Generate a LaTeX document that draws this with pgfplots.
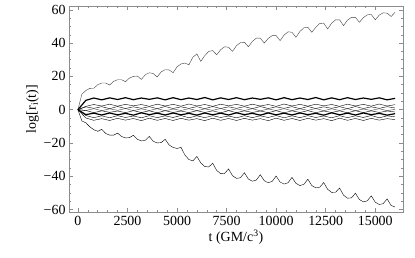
\documentclass[border=0pt]{standalone}
\usepackage{pgfplots}
\usepackage{pgfplotstable}
\pgfplotsset{compat=1.18}
\usepackage{fontspec}
\setmainfont{Liberation Serif}
\pgfplotstableread{
t U L
0 0 0
200 9.3 -6.8
400 11.5 -7.9
600 12.8 -10.3
800 12.9 -12.0
1000 15.0 -13.0
1200 16.0 -11.8
1400 16.0 -14.3
1600 14.8 -15.3
1800 17.0 -15.3
2000 18.0 -14.1
2200 18.0 -16.1
2400 16.8 -17.0
2600 19.0 -16.8
2800 20.0 -15.4
3000 20.2 -17.8
3200 18.2 -18.8
3400 21.0 -18.4
3600 22.2 -16.1
3800 21.7 -19.0
4000 19.7 -20.0
4200 22.7 -19.8
4400 24.0 -17.8
4600 23.9 -21.2
4800 22.2 -22.7
5000 25.7 -23.3
5200 27.5 -22.7
5400 28.0 -27.3
5600 27.0 -30.0
5800 31.5 -30.8
6000 33.5 -28.1
6200 29.0 -32.0
6400 32.5 -34.2
6600 35.0 -34.4
6800 35.5 -32.2
7000 33.0 -36.5
7200 36.0 -38.5
7400 37.8 -38.3
7600 37.5 -35.6
7800 35.0 -39.7
8000 38.5 -41.3
8200 40.3 -40.9
8400 40.5 -37.9
8600 37.8 -41.7
8800 41.0 -43.0
9000 43.0 -42.3
9200 43.0 -39.1
9400 40.0 -42.7
9600 42.8 -43.9
9800 44.5 -43.1
10000 44.5 -39.9
10200 41.5 -43.5
10400 44.8 -44.7
10600 46.8 -43.9
10800 46.5 -40.7
11000 43.5 -44.3
11200 47.0 -45.6
11400 49.2 -44.9
11600 49.5 -41.8
11800 46.5 -45.6
12000 49.5 -47.0
12200 51.8 -46.6
12400 52.0 -43.8
12600 48.5 -47.9
12800 52.0 -49.7
13000 54.0 -49.6
13200 54.0 -47.1
13400 50.5 -51.4
13600 53.8 -53.2
13800 55.5 -53.0
14000 55.5 -50.2
14200 52.5 -54.0
14400 55.3 -55.4
14600 57.0 -54.8
14800 57.2 -51.8
15000 54.0 -55.6
15200 56.8 -57.0
15400 58.2 -56.5
15600 58.0 -53.6
15800 56.0 -57.6
16000 58.5 -58.5
}\bigtab
\pgfplotstableread{
t A B C D E F G H
0 0 0 0 0 0 0 0 0
400 5.6 2.0 1.7 -0.5 -0.5 -3.0 -3.5 -5.0
800 7.0 3.1 0.8 0.6 -1.8 -2.1 -4.8 -6.4
1200 5.9 2.2 1.8 -0.6 -0.7 -3.2 -3.7 -5.4
1600 7.1 3.3 0.6 0.5 -1.6 -2.0 -4.9 -6.5
2000 6.1 2.1 1.9 -0.4 -0.8 -3.1 -3.6 -5.2
2400 7.2 3.2 0.7 0.7 -1.8 -2.2 -4.7 -6.3
2800 6.0 2.3 1.7 -0.6 -0.6 -3.3 -3.8 -5.3
3200 7.0 3.1 0.8 0.5 -1.7 -1.9 -4.9 -6.6
3600 6.2 2.0 1.8 -0.5 -0.7 -3.0 -3.6 -5.1
4000 7.1 3.3 0.6 0.6 -1.9 -2.1 -4.8 -6.4
4400 5.9 2.2 1.9 -0.7 -0.6 -3.2 -3.7 -5.3
4800 7.2 3.2 0.7 0.4 -1.7 -2.0 -4.7 -6.5
5200 6.0 2.1 1.7 -0.5 -0.8 -3.1 -3.5 -5.2
5600 7.0 3.4 0.8 0.6 -1.8 -2.2 -4.9 -6.3
6000 6.1 2.2 1.8 -0.6 -0.6 -3.3 -3.7 -5.4
6400 7.3 3.1 0.6 0.5 -1.7 -2.0 -4.8 -6.6
6800 5.9 2.0 1.9 -0.4 -0.7 -3.1 -3.6 -5.1
7200 7.1 3.3 0.7 0.7 -1.9 -2.1 -4.7 -6.4
7600 6.1 2.3 1.7 -0.6 -0.6 -3.2 -3.8 -5.3
8000 7.2 3.2 0.8 0.5 -1.8 -1.9 -4.9 -6.5
8400 6.0 2.1 1.8 -0.5 -0.7 -3.0 -3.6 -5.2
8800 7.0 3.3 0.6 0.6 -1.7 -2.2 -4.8 -6.3
9200 6.2 2.2 1.9 -0.7 -0.8 -3.3 -3.7 -5.4
9600 7.1 3.1 0.7 0.4 -1.8 -2.0 -4.7 -6.6
10000 5.9 2.0 1.7 -0.5 -0.6 -3.1 -3.5 -5.1
10400 7.2 3.4 0.8 0.6 -1.9 -2.1 -4.9 -6.4
10800 6.0 2.2 1.8 -0.6 -0.7 -3.2 -3.7 -5.3
11200 7.0 3.2 0.6 0.5 -1.7 -2.0 -4.8 -6.5
11600 6.1 2.1 1.9 -0.4 -0.6 -3.0 -3.6 -5.2
12000 7.3 3.3 0.7 0.7 -1.8 -2.2 -4.7 -6.3
12400 5.9 2.3 1.7 -0.6 -0.8 -3.3 -3.8 -5.4
12800 7.1 3.1 0.8 0.5 -1.7 -1.9 -4.9 -6.6
13200 6.0 2.0 1.8 -0.5 -0.7 -3.1 -3.6 -5.1
13600 7.2 3.3 0.6 0.6 -1.9 -2.1 -4.8 -6.4
14000 6.1 2.2 1.9 -0.7 -0.6 -3.2 -3.7 -5.3
14400 7.0 3.2 0.7 0.4 -1.8 -2.0 -4.7 -6.5
14800 6.2 2.1 1.7 -0.5 -0.7 -3.0 -3.5 -5.2
15200 7.1 3.4 0.8 0.6 -1.7 -2.2 -4.9 -6.3
15600 5.9 2.2 1.8 -0.6 -0.8 -3.3 -3.7 -5.4
16000 6.8 3.0 1.0 0.2 -1.4 -2.4 -4.3 -6.0
}\innertab
\begin{document}
\begin{tikzpicture}
\path[use as bounding box] (-69bp,-46bp) rectangle (346bp,212bp);
\begin{axis}[
  at={(0,0)}, anchor=south west,
  scale only axis, width=334bp, height=206bp,
  xmin=-450, xmax=16400, ymin=-61.5, ymax=62.3,
  xtick={0,2500,5000,7500,10000,12500,15000},
  minor x tick num=4,
  ytick={-60,-40,-20,0,20,40,60},
  yticklabels={−60,−40,−20,0,20,40,60},
  minor y tick num=3,
  scaled x ticks=false,
  /pgf/number format/assume math mode=true,
  /pgf/number format/set thousands separator={},
  tick align=inside,
  major tick length=4bp, minor tick length=2bp,
  every tick/.style={black!45, line width=0.5pt},
  axis line style={black!45, line width=0.6pt},
  tick label style={font=\fontsize{14}{16}\selectfont},
  label style={font=\fontsize{14}{16}\selectfont},
  xticklabel style={yshift=-1bp},
  xlabel={t (GM/c\textsuperscript{3})},
  ylabel={log[r\textsubscript{i}(t)]},
  xlabel style={yshift=3bp},
  ylabel style={yshift=-2bp},
  cycle list={{black!75, solid, line width=1.2pt, line join=round, mark=none}},
]
\addplot table[x=t,y=U] {\bigtab};
\addplot table[x=t,y=L] {\bigtab};
\addplot table[x=t,y=A] {\innertab};
\addplot table[x=t,y=B] {\innertab};
\addplot table[x=t,y=C] {\innertab};
\addplot table[x=t,y=D] {\innertab};
\addplot table[x=t,y=E] {\innertab};
\addplot table[x=t,y=F] {\innertab};
\addplot table[x=t,y=G] {\innertab};
\addplot table[x=t,y=H] {\innertab};
\end{axis}
\end{tikzpicture}
\end{document}
